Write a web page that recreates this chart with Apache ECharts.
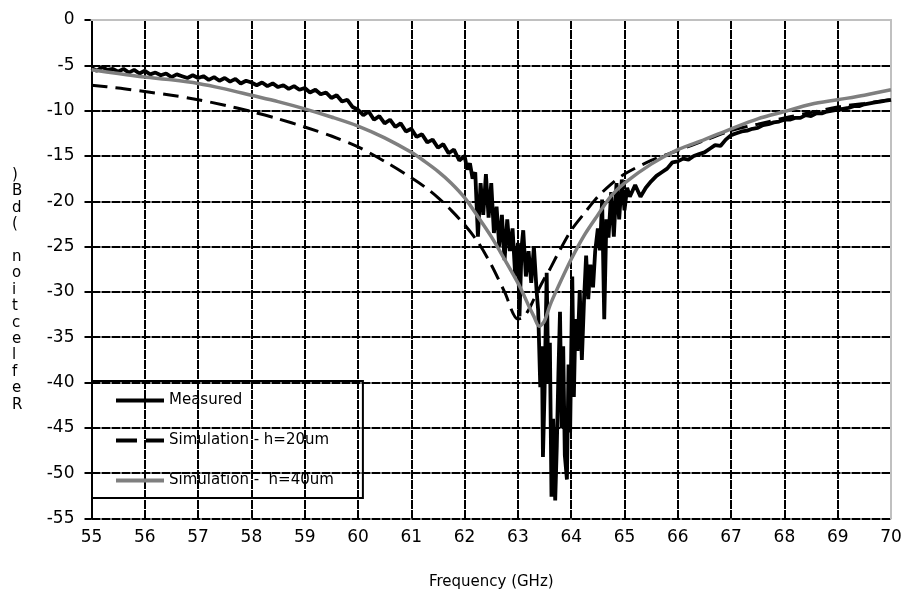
<!DOCTYPE html>
<html>
<head>
<meta charset="utf-8">
<script src="https://cdn.jsdelivr.net/npm/echarts@6/dist/echarts.min.js"></script>
<style>
	html, body { margin: 0; padding: 0; background: #fff; }
	#chart_1 { width: 905px; height: 599px; }
</style>
</head>
<body>
<div id="chart_1"></div>
<script>
// measured reflection
var measuredFreq = [55.0, 55.1, 55.2, 55.3, 55.4, 55.5, 55.6, 55.7, 55.8, 55.9,
	56.0, 56.1, 56.2, 56.3, 56.4, 56.5, 56.6, 56.7, 56.8, 56.9,
	57.0, 57.1, 57.2, 57.3, 57.4, 57.5, 57.6, 57.7, 57.8, 57.9,
	58.0, 58.1, 58.2, 58.3, 58.4, 58.5, 58.6, 58.7, 58.8, 58.9,
	59.0, 59.1, 59.2, 59.3, 59.4, 59.5, 59.6, 59.7, 59.8, 59.9,
	60.0, 60.1, 60.2, 60.3, 60.4, 60.5, 60.6, 60.7, 60.8, 60.9,
	61.0, 61.1, 61.2, 61.3, 61.4, 61.5, 61.6, 61.7, 61.8, 61.9,
	62.0, 62.05, 62.1, 62.15, 62.2, 62.25, 62.3, 62.35, 62.4, 62.45,
	62.5, 62.55, 62.6, 62.65, 62.7, 62.75, 62.8, 62.85, 62.9, 62.95,
	63.0, 63.03, 63.07, 63.1, 63.15, 63.2, 63.25, 63.3, 63.35, 63.38,
	63.42, 63.45, 63.47, 63.5, 63.54, 63.57, 63.6, 63.63, 63.66, 63.7,
	63.73, 63.76, 63.79, 63.82, 63.85, 63.88, 63.92, 63.95, 63.98, 64.02,
	64.05, 64.08, 64.12, 64.16, 64.2, 64.24, 64.28, 64.32, 64.36, 64.41,
	64.45, 64.5, 64.54, 64.58, 64.62, 64.66, 64.7, 64.75, 64.8, 64.85,
	64.9, 64.95, 65.0, 65.05, 65.1, 65.2, 65.3, 65.4, 65.5, 65.6,
	65.7, 65.8, 65.9, 66.0, 66.1, 66.2, 66.3, 66.4, 66.5, 66.6,
	66.7, 66.8, 66.9, 67.0, 67.1, 67.2, 67.3, 67.4, 67.5, 67.6,
	67.7, 67.8, 67.9, 68.0, 68.1, 68.2, 68.3, 68.4, 68.5, 68.6,
	68.7, 68.8, 68.9, 69.0, 69.1, 69.2, 69.3, 69.4, 69.5, 69.6,
	69.7, 69.8, 69.9, 70.0];
var measuredDb = [-5.3, -5.6, -5.2, -5.5, -5.4, -5.7, -5.4, -5.8, -5.5, -5.9,
	-5.6, -6.0, -5.8, -6.1, -5.9, -6.3, -6.0, -6.2, -6.4, -6.1,
	-6.4, -6.2, -6.6, -6.3, -6.7, -6.4, -6.8, -6.5, -7.0, -6.7,
	-6.9, -7.2, -6.9, -7.3, -7.0, -7.4, -7.2, -7.6, -7.3, -7.7,
	-7.5, -8.0, -7.7, -8.2, -8.0, -8.6, -8.3, -9.0, -8.8, -9.6,
	-9.9, -10.5, -10.1, -11.0, -10.6, -11.4, -11.0, -11.8, -11.4, -12.3,
	-12.0, -12.9, -12.6, -13.5, -13.2, -14.1, -13.7, -14.7, -14.3, -15.5,
	-15.0, -16.5, -15.8, -17.5, -16.8, -23.9, -18.0, -21.5, -17.0, -21.8,
	-18.0, -23.5, -20.6, -25.0, -21.5, -26.5, -22.0, -25.5, -23.0, -28.3,
	-24.6, -32.7, -25.0, -23.2, -28.3, -25.5, -29.0, -25.0, -29.8, -32.0,
	-40.5, -36.0, -48.2, -41.0, -27.9, -40.0, -35.6, -52.6, -44.0, -53.0,
	-47.0, -39.0, -32.2, -45.0, -36.0, -48.0, -50.7, -38.0, -45.5, -28.3,
	-41.6, -33.0, -36.5, -29.8, -37.5, -31.0, -26.0, -30.8, -27.0, -29.5,
	-25.5, -23.0, -25.4, -19.8, -33.0, -22.0, -24.0, -19.0, -23.9, -18.0,
	-22.0, -17.6, -21.0, -18.5, -19.5, -18.2, -19.5, -18.5, -17.8, -17.2,
	-16.8, -16.4, -15.7, -15.6, -15.3, -15.4, -15.0, -14.8, -14.6, -14.2,
	-13.8, -13.9, -13.2, -12.7, -12.5, -12.3, -12.2, -12.0, -11.9, -11.6,
	-11.5, -11.3, -11.2, -11.0, -11.0, -10.8, -10.8, -10.5, -10.6, -10.3,
	-10.3, -10.1, -10.0, -9.9, -9.8, -9.7, -9.5, -9.5, -9.3, -9.2,
	-9.1, -9.0, -8.9, -8.8];

// simulations
var simFreq = [55, 55.5, 56, 56.5, 57, 57.5, 58, 58.5, 59, 59.5,
	60, 60.5, 61, 61.25, 61.5, 61.75, 62, 62.25, 62.5, 62.75,
	63, 63.1, 63.2, 63.3, 63.4, 63.5, 63.6, 63.75, 64, 64.25,
	64.5, 64.75, 65, 65.5, 66, 66.5, 67, 67.5, 68, 68.5,
	69, 69.5, 70];
var sim20Db = [-7.2, -7.5, -7.9, -8.3, -8.8, -9.4, -10.1, -10.9, -11.8, -12.8,
	-14.0, -15.6, -17.4, -18.4, -19.6, -21.0, -22.6, -24.5, -27.0, -30.0,
	-33.0, -32.8, -32.0, -30.8, -29.6, -28.5, -27.5, -25.8, -23.2, -21.3,
	-19.5, -18.1, -17.0, -15.5, -14.4, -13.3, -12.2, -11.5, -10.8, -10.2,
	-9.6, -9.2, -8.8];
var sim40Db = [-5.5, -5.9, -6.3, -6.6, -7.0, -7.6, -8.3, -9.0, -9.8, -10.7,
	-11.7, -13.0, -14.6, -15.6, -16.7, -18.0, -19.6, -21.7, -23.9, -26.4,
	-29.0, -30.2, -31.5, -32.7, -33.8, -33.2, -31.5, -29.5, -26.4, -23.7,
	-21.5, -19.4, -18.0, -15.9, -14.3, -13.2, -12.0, -10.9, -10.1, -9.3,
	-8.8, -8.3, -7.7];

var seriesNames = ['Measured', 'Simulation - h=20um', 'Simulation -  h=40um'];
var yTitle = 'Reflection (dB)';

function pairs(xs, ys) {
	var t = [];
	for (var i = 0; i < xs.length; i++) {
		t.push([xs[i], ys[i]]);
	}
	return t;
}

var font = 'DejaVu Sans';
// legend samples: plain bar, or two dashes for the h=20um curve
var solidIcon = 'path://M0,0H48V4H0Z';
var dashIcon = 'path://M0,0H21V4H0Z M30,0H48V4H30Z';

var myChart = echarts.init(document.getElementById('chart_1'));
var option = {
	animation: false,
	backgroundColor: '#fff',
	grid: {
		left: 91.5,
		right: 14,
		top: 20,
		bottom: 80.5
	},
	legend: {
		orient: 'vertical',
		left: 92,
		top: 381,
		padding: [12, 29, 10, 24],
		itemGap: 25,
		itemWidth: 48,
		itemHeight: 4,
		borderColor: '#000',
		borderWidth: 2,
		backgroundColor: 'transparent',
		textStyle: { fontFamily: font, fontSize: 15, color: '#000' },
		data: [
			{ name: seriesNames[0], icon: solidIcon },
			{ name: seriesNames[1], icon: dashIcon },
			{ name: seriesNames[2], icon: solidIcon }
		]
	},
	graphic: [{
		type: 'text',
		left: 12,
		top: 167,
		style: {
			text: yTitle.split('').reverse().join('\n'),
			font: '15px "DejaVu Sans"',
			lineHeight: 16.4,
			fill: '#000'
		}
	}],
	xAxis: {
		type: 'value',
		min: 55,
		max: 70,
		interval: 1,
		z: 1,
		name: 'Frequency (GHz)',
		nameLocation: 'middle',
		nameGap: 56,
		nameTextStyle: { fontFamily: font, fontSize: 15, color: '#000' },
		axisLine: { show: true, lineStyle: { color: '#c0c0c0', width: 2 } },
		axisTick: { show: false },
		axisLabel: { margin: 11, fontFamily: font, fontSize: 17, color: '#000' },
		splitLine: { show: true, lineStyle: { color: '#000', width: 2, type: [9, 1] } }
	},
	yAxis: [{
		type: 'value',
		min: -55,
		max: 0,
		interval: 5,
		axisLine: { show: true, lineStyle: { color: '#000', width: 2 } },
		axisTick: { show: true, length: 7, lineStyle: { color: '#000', width: 2 } },
		axisLabel: { margin: 17, fontFamily: font, fontSize: 17, color: '#000' },
		splitLine: { show: true, lineStyle: { color: '#000', width: 2, type: [9, 1] } }
	}, {
		type: 'value',
		position: 'right',
		min: -55,
		max: 0,
		z: 1.5,
		axisLine: { show: true, lineStyle: { color: '#c0c0c0', width: 2 } },
		axisTick: { show: false },
		axisLabel: { show: false },
		splitLine: { show: false }
	}],
	series: [{
		name: seriesNames[0],
		type: 'line',
		showSymbol: false,
		symbol: 'none',
		data: pairs(measuredFreq, measuredDb),
		lineStyle: { color: '#000', width: 3.8 },
		itemStyle: { color: '#000' }
	}, {
		name: seriesNames[1],
		type: 'line',
		showSymbol: false,
		symbol: 'none',
		smooth: 0.3,
		data: pairs(simFreq, sim20Db),
		lineStyle: { color: '#000', width: 3, type: [16, 8] },
		itemStyle: { color: '#000' }
	}, {
		name: seriesNames[2],
		type: 'line',
		showSymbol: false,
		symbol: 'none',
		smooth: 0.3,
		data: pairs(simFreq, sim40Db),
		lineStyle: { color: '#7f7f7f', width: 3.5 },
		itemStyle: { color: '#7f7f7f' }
	}]
};
myChart.setOption(option);
</script>
</body>
</html>
